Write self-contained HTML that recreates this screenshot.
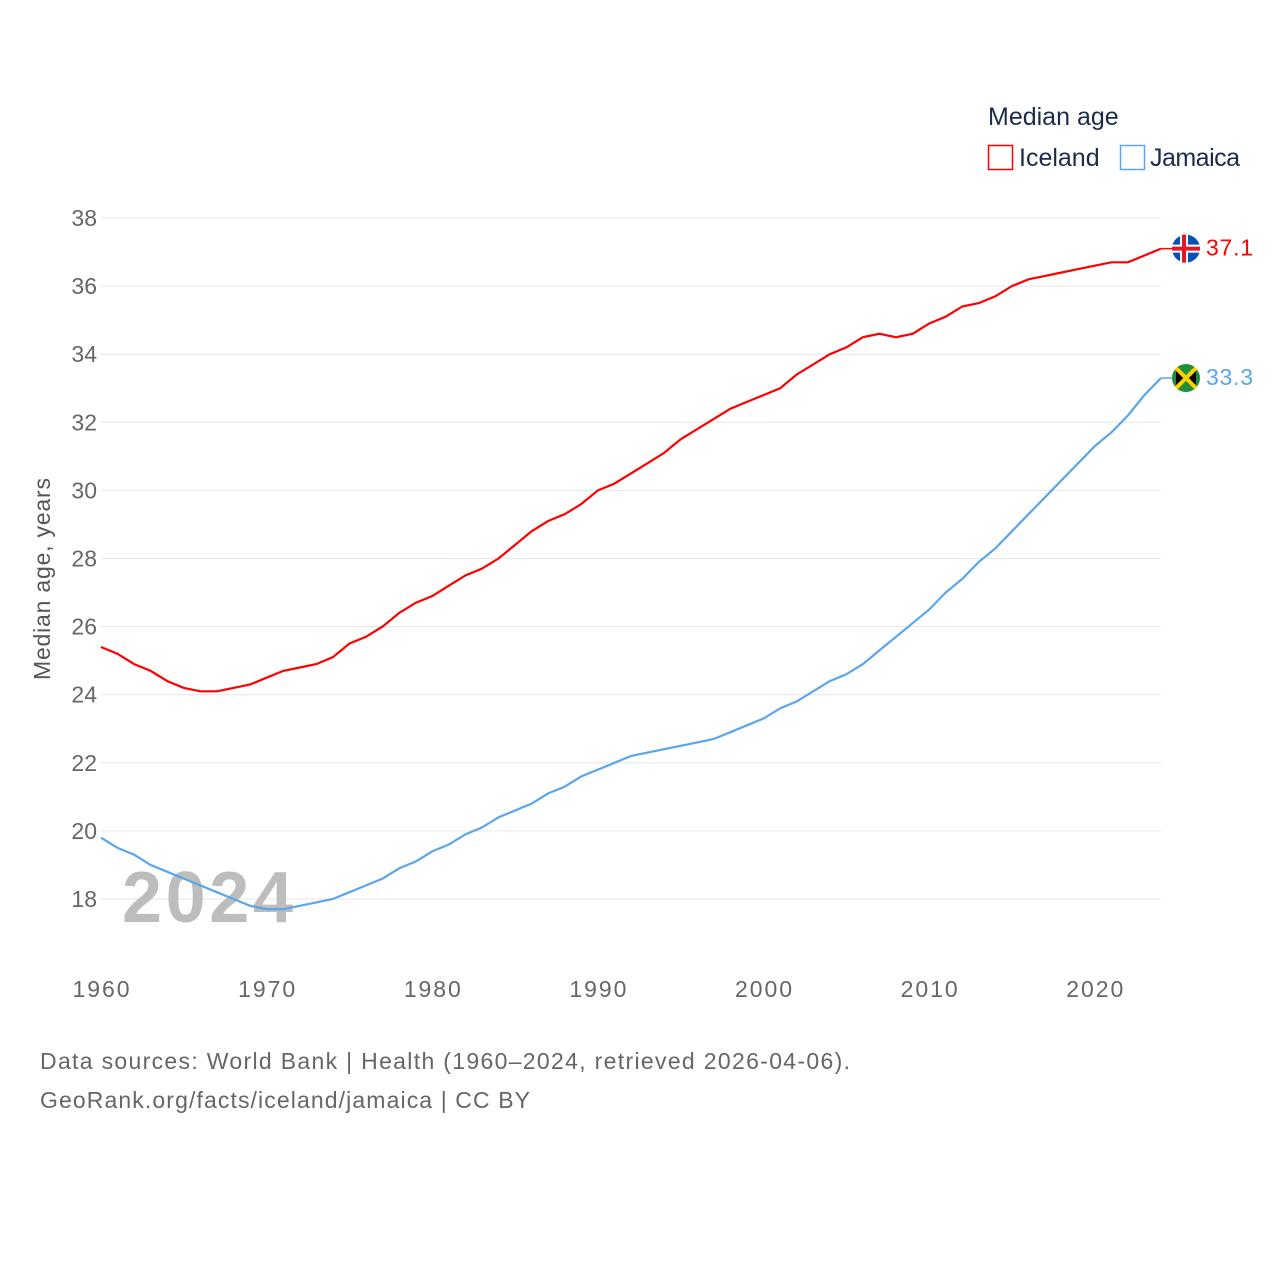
<!DOCTYPE html>
<html><head><meta charset="utf-8"><style>
body{margin:0;background:#fff;}
svg{display:block;font-family:"Liberation Sans",sans-serif;}
</style></head><body>
<svg id="chart" width="1280" height="1280" viewBox="0 0 1280 1280">
<text x="988" y="125" font-size="25" fill="#1d2b4a">Median age</text>
<g>
<rect x="988.5" y="145.5" width="24" height="24" fill="none" stroke="#ff0000" stroke-width="1.5"/>
<text x="1019" y="166" font-size="25" fill="#1d2b4a">Iceland</text></g>
<g>
<rect x="1120.5" y="145.5" width="24" height="24" fill="none" stroke="#5aa6ea" stroke-width="1.5"/>
<text x="1150" y="166" font-size="25" fill="#1d2b4a" textLength="90">Jamaica</text></g>
<g id="grid"></g>
<g id="yticks"></g>
<g id="xticks"></g>
<text transform="translate(50,579) rotate(-90)" text-anchor="middle" font-size="23" fill="#555" textLength="202">Median age, years</text>
<text x="122" y="922" font-size="72" font-weight="bold" fill="#bdbdbd" textLength="171">2024</text>
<g id="series"></g>
<text x="40" y="1069" font-size="23" fill="#666" textLength="810">Data sources: World Bank | Health (1960–2024, retrieved 2026-04-06).</text>
<text x="40" y="1108" font-size="23" fill="#666" textLength="490">GeoRank.org/facts/iceland/jamaica | CC BY</text>
</svg>
<script>
const years=[];for(let y=1960;y<=2024;y++)years.push(y);
const iceland=[25.4,25.2,24.9,24.7,24.4,24.2,24.1,24.1,24.2,24.3,24.5,24.7,24.8,24.9,25.1,25.5,25.7,26.0,26.4,26.7,26.9,27.2,27.5,27.7,28.0,28.4,28.8,29.1,29.3,29.6,30.0,30.2,30.5,30.8,31.1,31.5,31.8,32.1,32.4,32.6,32.8,33.0,33.4,33.7,34.0,34.2,34.5,34.6,34.5,34.6,34.9,35.1,35.4,35.5,35.7,36.0,36.2,36.3,36.4,36.5,36.6,36.7,36.7,36.9,37.1];
const jamaica=[19.8,19.5,19.3,19.0,18.8,18.6,18.4,18.2,18.0,17.8,17.7,17.7,17.8,17.9,18.0,18.2,18.4,18.6,18.9,19.1,19.4,19.6,19.9,20.1,20.4,20.6,20.8,21.1,21.3,21.6,21.8,22.0,22.2,22.3,22.4,22.5,22.6,22.7,22.9,23.1,23.3,23.6,23.8,24.1,24.4,24.6,24.9,25.3,25.7,26.1,26.5,27.0,27.4,27.9,28.3,28.8,29.3,29.8,30.3,30.8,31.3,31.7,32.2,32.8,33.3];
const yTicks=[18,20,22,24,26,28,30,32,34,36,38];
const xTicks=[1960,1970,1980,1990,2000,2010,2020];
const NS="http://www.w3.org/2000/svg";
const X=v=>101+(v-1960)*(1060/64);
const Y=v=>899-(v-18)*(681/20);
function mk(tag,attrs,parent){const e=document.createElementNS(NS,tag);for(const k in attrs)e.setAttribute(k,attrs[k]);parent.appendChild(e);return e;}
const grid=document.getElementById('grid'),yt=document.getElementById('yticks'),xt=document.getElementById('xticks'),ser=document.getElementById('series');
yTicks.forEach(t=>{
 const l=mk('line',{x1:101,x2:1161,y1:Y(t),y2:Y(t),stroke:'#e6e6e6','stroke-width':1},grid);
 
 
 const tx=mk('text',{x:97,y:Y(t)+8,'text-anchor':'end','font-size':23,fill:'#666'},yt);tx.textContent=t;
 
 
});
xTicks.forEach(t=>{
 const tx=mk('text',{x:X(t),y:997,'text-anchor':'middle','font-size':23,fill:'#666',textLength:57},xt);tx.textContent=t;
 
 
});
function line(vals,color,name){
 const d=vals.map((v,i)=>(i?'L':'M')+X(years[i]).toFixed(1)+' '+Y(v).toFixed(1)).join(' ');
 const p=mk('path',{d:d,fill:'none',stroke:color,'stroke-width':2.2},ser);
 
 
 const last=vals[vals.length-1],ly=Y(last);
 mk('line',{x1:1161,x2:1172,y1:ly,y2:ly,stroke:color,'stroke-width':1.5},ser);
 const g=mk('g',{},ser);
 
 
 if(name==='iceland'){
  mk('circle',{cx:1186,cy:ly,r:14,fill:'#0b52b8'},g);
  mk('rect',{x:1172,y:ly-4,width:28,height:8,fill:'#fff'},g);
  mk('rect',{x:1180,y:ly-14,width:8,height:28,fill:'#fff'},g);
  mk('rect',{x:1172,y:ly-2,width:28,height:4,fill:'#e0182d'},g);
  mk('rect',{x:1182,y:ly-14,width:4,height:28,fill:'#e0182d'},g);
 }else{
  mk('circle',{cx:1186,cy:ly,r:14,fill:'#1f8f3a'},g);
  mk('path',{d:`M1176 ${ly-10} L1186 ${ly} L1176 ${ly+10} Z M1196 ${ly-10} L1186 ${ly} L1196 ${ly+10} Z`,fill:'#000'},g);
  mk('path',{d:`M1176 ${ly-10} L1196 ${ly+10} M1196 ${ly-10} L1176 ${ly+10}`,stroke:'#fed100','stroke-width':4},g);
 }
 const t=mk('text',{x:1206,y:ly+7,'font-size':23,fill:color,textLength:47},ser);t.textContent=last.toFixed(1);
 
 
}
line(iceland,'#ff0000','iceland');
line(jamaica,'#5aa6ea','jamaica');
</script>
</body></html>
